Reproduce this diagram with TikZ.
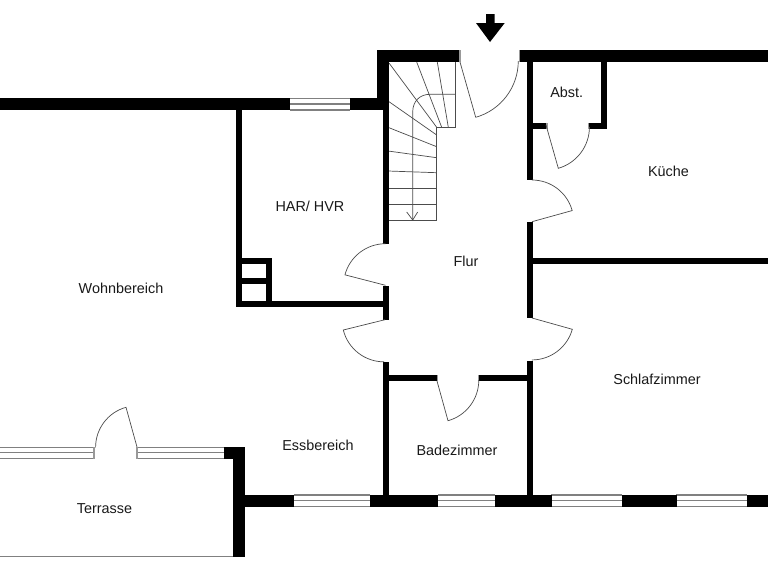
\documentclass[tikz,border=0pt]{standalone}
\usepackage{fontspec}
\setmainfont{Liberation Sans}
\tikzset{
  wall/.style={fill=black,draw=none},
  thin line/.style={draw=black!70,line width=0.7pt},
  stair/.style={draw=black!70,line width=0.7pt},
  glass/.style={draw=black!50,line width=1.1pt},
  jamb/.style={fill=black!40,draw=none},
  room/.style={font=\fontsize{14.4}{16}\selectfont,text=black!90,inner sep=0pt}
}
\newcommand{\winh}[3]{% x1 x2 ytop
  \draw[glass] (#1,#3+0.5) -- (#2,#3+0.5);
  \draw[glass] (#1,#3+6) -- (#2,#3+6);
  \draw[glass,line width=1.4pt] (#1,#3+11.8) -- (#2,#3+11.8);
}
\begin{document}
\begin{tikzpicture}[x=1pt,y=-1pt]
\useasboundingbox (0,0) rectangle (768,560);
\fill[white] (0,0) rectangle (768,560);
% entrance arrow
\fill[black] (486,14) -- (494.7,14) -- (494.7,23) -- (504.7,23) -- (490,42) -- (476,23) -- (486,23) -- cycle;
% stairs
\draw[stair] (455,62) -- (455,127.3) -- (436.7,127.3) -- (436.7,220) -- (388,220);
\foreach \ya/\yb in {204.3/204.3,188.7/188.7,171/172.7,151/157.7,127.3/146.7,101/135}
  \draw[stair] (388,\ya) -- (436.7,\yb);
\draw[stair] (389,63) -- (436.7,127.3);
\draw[stair] (416.7,62) -- (441.7,127.3);
\draw[stair] (437.3,62) -- (448.3,127.3);
\draw[stair] (412.7,220) -- (412.7,112) .. controls (412.7,101) and (420,94.3) .. (430,94.3) -- (455,94.3);
\draw[stair] (406.7,212) -- (412.7,220) -- (417.7,212);
% windows
\winh{290}{350}{98}
\winh{294}{370}{494.5}
\winh{438}{495}{494.5}
\winh{551}{622}{494.5}
\winh{676}{747}{494.5}
\winh{0}{93}{446.7}
\winh{137}{224}{446.7}
\fill[jamb] (92.7,446.7) rectangle (95.3,458.7);
\fill[jamb] (136,446.7) rectangle (138,458.7);
% thick walls
\fill[wall] (0,98) -- (290,98) -- (290,110) -- (0,110) -- cycle;
\fill[wall] (350,98) rectangle (382.7,110);
\fill[wall] (377,50) rectangle (459.3,62);
\fill[wall] (377,50) rectangle (389,110);
\fill[wall] (520.3,50) rectangle (768,61.5);
\fill[wall] (224,446.7) rectangle (245,458.7);
\fill[wall] (232.7,446.7) rectangle (245,556.7);
\fill[wall] (245,494.5) rectangle (294.3,506.5);
\fill[wall] (369.5,494.5) rectangle (438.3,506.5);
\fill[wall] (495,494.5) rectangle (551.7,506.5);
\fill[wall] (621.7,494.5) rectangle (676.7,506.5);
\fill[wall] (746.7,494.5) rectangle (768,506.5);
% thin walls
\fill[wall] (383,110) rectangle (388.5,243.7);
\fill[wall] (383,285.5) rectangle (388.5,319.7);
\fill[wall] (383,361.7) rectangle (388.5,495);
\fill[wall] (236,110) rectangle (242,307);
\fill[wall] (236,301) rectangle (383,307);
\fill[wall] (236,258) rectangle (271.7,264);
\fill[wall] (266,258) rectangle (271.7,307);
\fill[wall] (236,278.3) rectangle (271.7,283.5);
\fill[wall] (526.7,61) rectangle (532.7,179.5);
\fill[wall] (526.7,222) rectangle (532.7,318);
\fill[wall] (526.7,360.7) rectangle (532.7,495);
\fill[wall] (532,258) rectangle (768,264);
\fill[wall] (600.7,61) rectangle (606.7,129);
\fill[wall] (532,123.3) rectangle (546,129);
\fill[wall] (589,123.3) rectangle (606.7,129);
\fill[wall] (388,375) rectangle (436.7,381);
\fill[wall] (479,375) rectangle (527,381);
% terrace edge
\draw[glass,line width=1.2pt] (0,556.5) -- (232.7,556.5);
% door jambs
\fill[jamb] (459.3,50) rectangle (460.6,62);
\fill[jamb] (518.5,50) rectangle (520.3,62);
\fill[jamb] (546,123.3) rectangle (547.5,129);
\fill[jamb] (587.5,123.3) rectangle (589,129);
\fill[jamb] (436.7,375) rectangle (438,381);
\fill[jamb] (477.7,375) rectangle (479,381);
% doors
\draw[thin line] (460,62) -- (475.7,117.3) arc[start angle=74.2,end angle=0,radius=58.5];
\draw[thin line] (546,125) -- (558.3,168.3) arc[start angle=74,end angle=0,radius=43];
\draw[thin line] (532,180) arc[start angle=-90,end angle=-15.5,radius=41.7] -- (532,221.7);
\draw[thin line] (385.5,243.7) arc[start angle=-90,end angle=-165,radius=42] -- (385.5,285.3);
\draw[thin line] (385,319.7) -- (343.3,330) arc[start angle=166,end angle=90,radius=42];
\draw[thin line] (532,318) -- (572.3,329.3) arc[start angle=15.7,end angle=90,radius=42];
\draw[thin line] (437,381) -- (448,420.7) arc[start angle=74.5,end angle=0,radius=42];
\draw[thin line] (137,447) -- (126,407.3) arc[start angle=-105.5,end angle=-180,radius=41.5];
% labels
\node[room] (abst) at (566.7,92) {Abst.};
\node[room] (kueche) at (668.5,171) {Küche};
\node[room] (har) at (310,206) {HAR/ HVR};
\node[room] (flur) at (466,261) {Flur};
\node[room] (wohn) at (121,288) {Wohnbereich};
\node[room] (schlaf) at (657,379) {Schlafzimmer};
\node[room] (ess) at (318,445) {Essbereich};
\node[room] (bad) at (457,450) {Badezimmer};
\node[room] (terr) at (104.5,509) {Terrasse};
\end{tikzpicture}
\end{document}
